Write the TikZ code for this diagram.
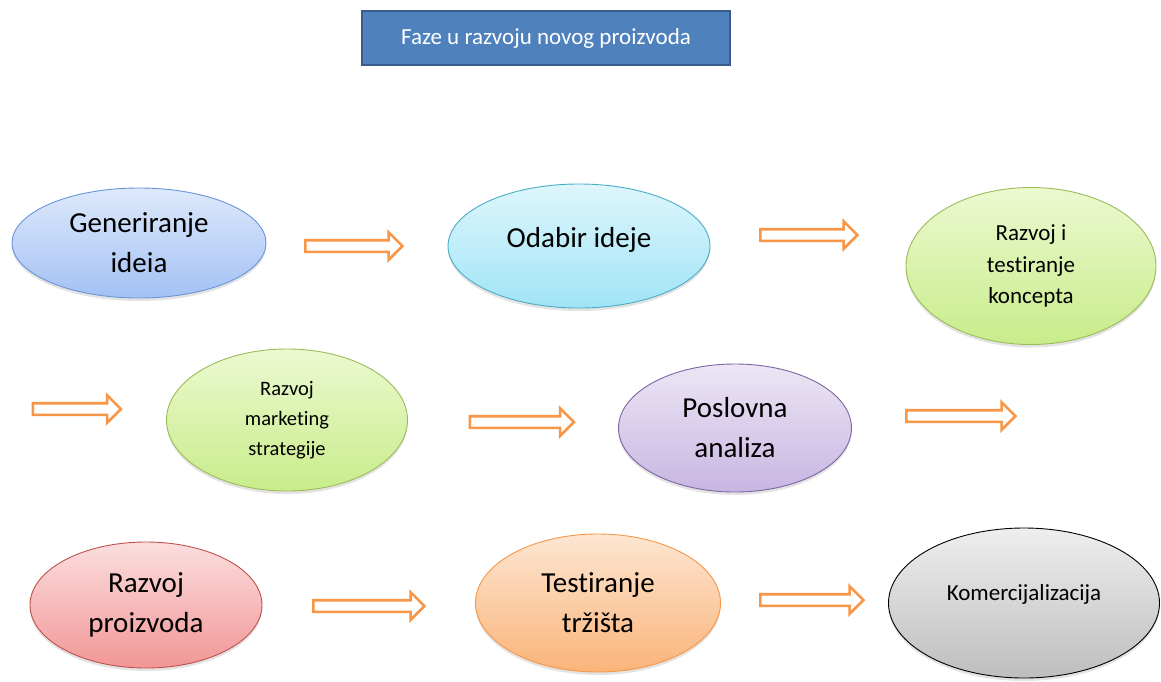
\documentclass[tikz,border=0pt]{standalone}
\usepackage{fontspec}
\setmainfont{Carlito}[Ligatures=CommonOff]
\usetikzlibrary{shapes.geometric,shapes.arrows,shadows}
\definecolor{arrowor}{HTML}{F79646}
\definecolor{titlefill}{HTML}{4F81BD}
\definecolor{titledraw}{HTML}{385D8A}
\definecolor{bluedraw}{HTML}{6A95D8}
\definecolor{bluetop}{HTML}{DEE9FB}
\definecolor{bluebot}{HTML}{A3C1F4}
\definecolor{cyandraw}{HTML}{4BACC6}
\definecolor{cyantop}{HTML}{DEF6FC}
\definecolor{cyanbot}{HTML}{A0E4F6}
\definecolor{greendraw}{HTML}{9BBB59}
\definecolor{greentop}{HTML}{ECF9D0}
\definecolor{greenbot}{HTML}{C8EC8A}
\definecolor{purpdraw}{HTML}{8064A2}
\definecolor{purptop}{HTML}{ECE6F5}
\definecolor{purpbot}{HTML}{C8B6E2}
\definecolor{reddraw}{HTML}{C0504D}
\definecolor{redtop}{HTML}{FBDEDE}
\definecolor{redbot}{HTML}{F29696}
\definecolor{orgdraw}{HTML}{F79646}
\definecolor{orgtop}{HTML}{FDE6D2}
\definecolor{orgbot}{HTML}{FAB47A}
\definecolor{graytop}{HTML}{EEEEEE}
\definecolor{graybot}{HTML}{BEBEBE}
\tikzset{
  phase/.style={ellipse, draw=#1, line width=0.9pt, inner sep=0pt, align=center,
    drop shadow={opacity=0.22, shadow xshift=0pt, shadow yshift=-3pt}},
  big/.style={font=\fontsize{29}{40}\selectfont},
  mid/.style={font=\fontsize{23}{31.5}\selectfont},
  sml/.style={font=\fontsize{20.5}{30}\selectfont},
  blockarrow/.style={single arrow, draw=arrowor, fill=white, line width=2.6pt,
    inner sep=4.5pt, single arrow head extend=8pt, minimum height=#1, anchor=center},
}
\begin{document}
\begin{tikzpicture}[x=1pt,y=-1pt]
\useasboundingbox (0,0) rectangle (1161,681);
% title
\node[draw=titledraw, line width=2pt, fill=titlefill, text=white,
  minimum width=368pt, minimum height=54pt, font=\fontsize{23}{28}\selectfont]
  (title) at (546,38) {Faze u razvoju novog proizvoda};
% phases
\node[phase=bluedraw, top color=bluetop, bottom color=bluebot,
  minimum width=254pt, minimum height=110pt, big] (p1) at (139,243) {Generiranje\\ideia};
\node[phase=cyandraw, top color=cyantop, bottom color=cyanbot,
  minimum width=262pt, minimum height=124pt, big] (p2) at (579,246) {Odabir ideje\\[-22pt]};
\node[phase=greendraw, top color=greentop, bottom color=greenbot,
  minimum width=250pt, minimum height=157pt, mid] (p3) at (1031,266) {Razvoj i\\testiranje\\koncepta};
\node[phase=greendraw, top color=greentop, bottom color=greenbot,
  minimum width=241pt, minimum height=142pt, sml] (p4) at (287,420) {Razvoj\\marketing\\strategije};
\node[phase=purpdraw, top color=purptop, bottom color=purpbot,
  minimum width=233pt, minimum height=128pt, big] (p5) at (735,428) {Poslovna\\analiza};
\node[phase=reddraw, top color=redtop, bottom color=redbot,
  minimum width=232pt, minimum height=126pt, big] (p6) at (146,605) {Razvoj\\proizvoda};
\node[phase=orgdraw, top color=orgtop, bottom color=orgbot,
  minimum width=245pt, minimum height=138pt, big] (p7) at (598,603) {Testiranje\\tržišta};
\node[phase=black, top color=graytop, bottom color=graybot,
  minimum width=271pt, minimum height=150pt, mid] (p8) at (1024,603) {Komercijalizacija\\[-10pt]};
% block arrows
\node[blockarrow=97pt] (a1) at (351,246) {};
\node[blockarrow=97pt] (a2) at (806,235) {};
\node[blockarrow=88pt] (a3) at (74,409) {};
\node[blockarrow=104pt] (a4) at (519,422) {};
\node[blockarrow=109pt] (a5) at (958,416) {};
\node[blockarrow=111pt] (a6) at (366,606) {};
\node[blockarrow=103pt] (a7) at (809,600) {};
\end{tikzpicture}
\end{document}
